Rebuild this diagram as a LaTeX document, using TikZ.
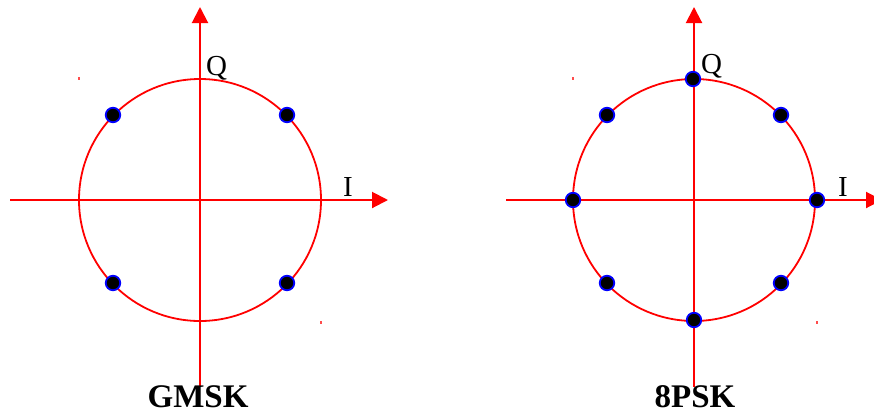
\documentclass[tikz,border=0pt]{standalone}
\usepackage{fontspec}
\setmainfont{Liberation Serif}
\usetikzlibrary{arrows.meta}
\begin{document}
\begin{tikzpicture}[x=1pt,y=-1pt,
  axis/.style={draw=red,line width=2pt,-{Triangle[length=16pt,width=16pt]}},
  ring/.style={draw=red,line width=1.8pt},
  sym/.style={circle,draw=blue,fill=black,line width=1.8pt,minimum size=14.5pt,inner sep=0pt},
  axlabel/.style={font=\fontsize{29}{29}\selectfont,inner sep=0pt,anchor=base west},
  title/.style={font=\fontsize{33}{33}\selectfont\bfseries,inner sep=0pt,anchor=base},
  speck/.style={fill=red!70,draw=none}]
\useasboundingbox (0,0) rectangle (874,416);
% ---------- GMSK ----------
\coordinate (gc) at (200,200);
\coordinate (gxl) at (10,200);
\coordinate (gxr) at (388,200);
\coordinate (gyt) at (200,7);
\coordinate (gyb) at (200,387);
\draw[ring] (gc) circle[radius=121];
\draw[axis] (gxl) -- (gxr);
\draw[axis] (gyb) -- (gyt);
\node[axlabel] (gq) at (206,75) {Q};
\node[axlabel] (gi) at (343,196) {I};
\node[sym] (g1) at (113,115) {};
\node[sym] (g2) at (287,115) {};
\node[sym] (g3) at (113,283) {};
\node[sym] (g4) at (287,283) {};
\fill[speck] (78,77) rectangle (80,80);
\fill[speck] (320,321) rectangle (322,324);
\node[title] (gt) at (198,407) {GMSK};
% ---------- 8PSK ----------
\coordinate (pc) at (694,200);
\coordinate (pxl) at (506,200);
\coordinate (pxr) at (882,200);
\coordinate (pyt) at (694,7);
\coordinate (pyb) at (694,387);
\draw[ring] (pc) circle[radius=121];
\draw[axis] (pxl) -- (pxr);
\draw[axis] (pyb) -- (pyt);
\node[axlabel] (pq) at (701,73) {Q};
\node[axlabel] (pi) at (838,196) {I};
\node[sym] (p1) at (693,79) {};
\node[sym] (p2) at (607,115) {};
\node[sym] (p3) at (781,115) {};
\node[sym] (p4) at (573,200) {};
\node[sym] (p5) at (817,200) {};
\node[sym] (p6) at (607,283) {};
\node[sym] (p7) at (781,283) {};
\node[sym] (p8) at (694,320) {};
\fill[speck] (572,77) rectangle (574,80);
\fill[speck] (816,321) rectangle (818,324);
\node[title] (pt) at (695,407) {8PSK};
\end{tikzpicture}
\end{document}
